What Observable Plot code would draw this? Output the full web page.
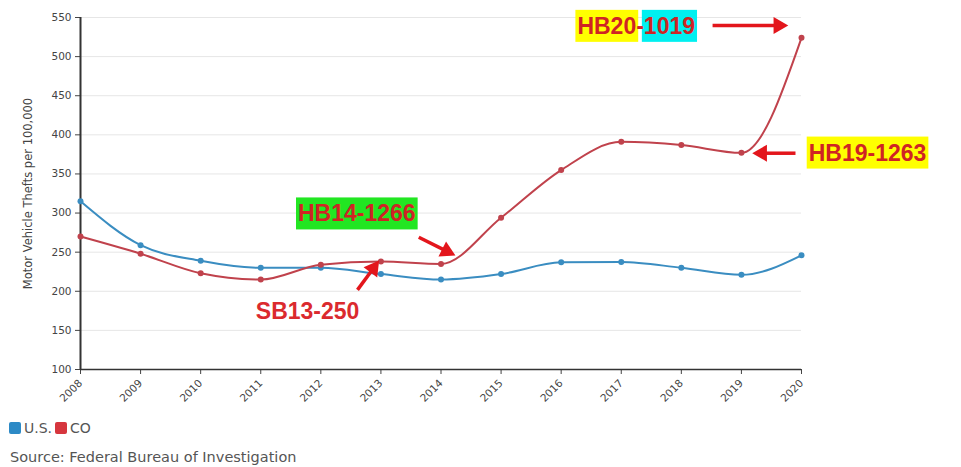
<!DOCTYPE html>
<html>
<head>
<meta charset="utf-8">
<script src="https://cdn.jsdelivr.net/npm/d3@7"></script>
<script src="https://cdn.jsdelivr.net/npm/@observablehq/plot@0.6"></script>
<style>
  html, body { margin: 0; padding: 0; background: #fff; }
  #wrap { position: relative; width: 961px; height: 467px; overflow: hidden; font-family: "DejaVu Sans", "Liberation Sans", Arial, sans-serif; }
  #legend { position: absolute; left: 9px; top: 420px; font-size: 14px; color: #555; display: flex; align-items: center; }
  .sw { display: inline-block; width: 12px; height: 12px; border-radius: 2px; margin-right: 3px; }
  .item { display: inline-flex; align-items: center; margin-right: 3px; }
  #source { position: absolute; left: 10px; top: 449px; font-size: 14.5px; color: #555; }
</style>
</head>
<body>
<div id="wrap">
  <div id="chart"></div>
  <div id="legend"></div>
  <div id="source"></div>
</div>
<script>
// ---- data ----
const years = [2008, 2009, 2010, 2011, 2012, 2013, 2014, 2015, 2016, 2017, 2018, 2019, 2020];
const usValues = [315, 259, 239, 230, 230, 222, 215, 222, 237, 237.5, 230, 221, 246];
const coValues = [270, 248, 223, 215, 234, 238, 235, 294, 355, 391, 387, 377, 524];
const seriesNames = ["U.S.", "CO"];
const yTicks = [100, 150, 200, 250, 300, 350, 400, 450, 500, 550];
const yLabel = "Motor Vehicle Thefts per 100,000";
const sourceText = "Source: Federal Bureau of Investigation";

// annotations (bill labels) in data coordinates
const annoLabels = ["HB20-1019", "HB19-1263", "HB14-1266", "SB13-250"];
const annoX = [2016.27, 2020.12, 2011.62, 2011.78];
const annoY = [538.5, 376.5, 298.7, 174];
const annoAnchor = ["start", "start", "start", "middle"];
const annoBg = [
  [[0, 4, "#ffff00"], [5, 9, "#00f0f0"]],
  [[0, 9, "#ffff00"]],
  [[0, 9, "#22e622"]],
  []
];
// arrows (tail -> tip)
const arrowX1 = [2018.52, 2019.90, 2013.63, 2012.61];
const arrowY1 = [539.8, 376.5, 269, 201.8];
const arrowX2 = [2019.78, 2019.18, 2014.24, 2012.97];
const arrowY2 = [539.8, 376.5, 245.7, 239.3];

const colors = { "U.S.": "#3a8dc1", "CO": "#c0424c" };
const legendColors = { "U.S.": "#2d8ac6", "CO": "#d6363e" };
const arrowColor = "#e3161c";

// ---- build tables ----
const us = years.map((y, i) => ({ year: y, value: usValues[i] }));
const co = years.map((y, i) => ({ year: y, value: coValues[i] }));
const annos = annoLabels.map((t, i) => ({ text: t, x: annoX[i], y: annoY[i], anchor: annoAnchor[i] }));
const arrows = arrowX1.map((x, i) => ({ x1: x, y1: arrowY1[i], x2: arrowX2[i], y2: arrowY2[i] }));

const annoFont = "'Liberation Sans', Arial, sans-serif";
const tickFont = "'DejaVu Sans', sans-serif";

function build(extra) {
  return Plot.plot({
    width: 961,
    height: 412,
    marginTop: 17,
    marginBottom: 43,
    marginLeft: 80,
    marginRight: 160,
    style: { fontFamily: tickFont, fontSize: "11px", color: "#444", background: "white", overflow: "visible" },
    x: { type: "linear", domain: [2008, 2020] },
    y: { domain: [100, 550] },
    marks: [
      Plot.gridY(yTicks.slice(1), { stroke: "#e6e6e6", strokeOpacity: 1 }),
      Plot.axisY(yTicks, { tickSize: 5, fontSize: 10.5, stroke: "#444", label: null }),
      Plot.axisY({ ticks: [], tickSize: 0, label: yLabel, labelAnchor: "center", labelArrow: "none", labelOffset: 57, fontSize: 11.5 }),
      Plot.axisX(years, { tickSize: 5, fontSize: 10.5, tickRotate: -45, tickFormat: d => String(d), label: null, stroke: "#444" }),
      Plot.ruleX([2008], { stroke: "#333", strokeWidth: 2 }),
      Plot.ruleY([100], { stroke: "#333", strokeWidth: 1.5 }),
      Plot.line(us, { x: "year", y: "value", stroke: colors["U.S."], strokeWidth: 2, curve: "monotone-x" }),
      Plot.dot(us, { x: "year", y: "value", fill: colors["U.S."], r: 3 }),
      Plot.line(co, { x: "year", y: "value", stroke: colors["CO"], strokeWidth: 2, curve: "monotone-x" }),
      Plot.dot(co, { x: "year", y: "value", fill: colors["CO"], r: 3 }),
      Plot.text(annos.filter(d => d.anchor === "start"), { x: "x", y: "y", text: "text", textAnchor: "start", fill: "#cf2424", fontSize: 23, fontWeight: "bold", fontFamily: annoFont }),
      Plot.text(annos.filter(d => d.anchor === "middle"), { x: "x", y: "y", text: "text", textAnchor: "middle", fill: "#db2a2e", fontSize: 23, fontWeight: "bold", fontFamily: annoFont }),
      ...extra
    ]
  });
}

// first pass: get the scales to orient the arrow heads
const probe = build([]);
const sx = probe.scale("x"), sy = probe.scale("y");
const headR = 6.3;
const k = headR * Math.sqrt(Math.PI / (3 * Math.sqrt(3)));
const shafts = [], heads = [];
arrows.forEach(a => {
  const px1 = sx.apply(a.x1), py1 = sy.apply(a.y1), px2 = sx.apply(a.x2), py2 = sy.apply(a.y2);
  const len = Math.hypot(px2 - px1, py2 - py1);
  const ux = (px2 - px1) / len, uy = (py2 - py1) / len;
  const bx = px2 - ux * (3 * k - 2), by = py2 - uy * (3 * k - 2);
  const cx = px2 - ux * 2 * k, cy = py2 - uy * 2 * k;
  shafts.push({ x1: a.x1, y1: a.y1, x2: sx.invert(bx), y2: sy.invert(by) });
  heads.push({ x: sx.invert(cx), y: sy.invert(cy), rotate: Math.atan2(ux, -uy) * 180 / Math.PI });
});

const chart = build([
  Plot.link(shafts, { x1: "x1", y1: "y1", x2: "x2", y2: "y2", stroke: arrowColor, strokeWidth: 3.5 }),
  Plot.dot(heads, { x: "x", y: "y", rotate: "rotate", symbol: "triangle", r: headR, fill: arrowColor, stroke: "none" })
]);
document.getElementById("chart").appendChild(chart);

// background boxes behind annotation labels
const textEls = Array.from(chart.querySelectorAll("text")).filter(t => annoLabels.includes(t.textContent));
textEls.forEach(t => {
  const i = annoLabels.indexOf(t.textContent);
  const bb = t.getBBox();
  for (const [s, e, fill] of annoBg[i]) {
    let x0 = Infinity, x1 = -Infinity;
    for (let c = s; c < e; c++) {
      const r = t.getExtentOfChar(c);
      x0 = Math.min(x0, r.x);
      x1 = Math.max(x1, r.x + r.width);
    }
    const rect = document.createElementNS("http://www.w3.org/2000/svg", "rect");
    rect.setAttribute("x", x0 - 2);
    rect.setAttribute("y", bb.y - 3);
    rect.setAttribute("width", x1 - x0 + 4);
    rect.setAttribute("height", bb.height + 6);
    rect.setAttribute("fill", fill);
    if (t.getAttribute("transform")) rect.setAttribute("transform", t.getAttribute("transform"));
    t.parentNode.insertBefore(rect, t);
  }
});

// legend
const legend = document.getElementById("legend");
seriesNames.forEach(n => {
  const item = document.createElement("span");
  item.className = "item";
  const sw = document.createElement("span");
  sw.className = "sw";
  sw.style.background = legendColors[n];
  item.appendChild(sw);
  item.appendChild(document.createTextNode(n));
  legend.appendChild(item);
});
document.getElementById("source").textContent = sourceText;
</script>
</body>
</html>
